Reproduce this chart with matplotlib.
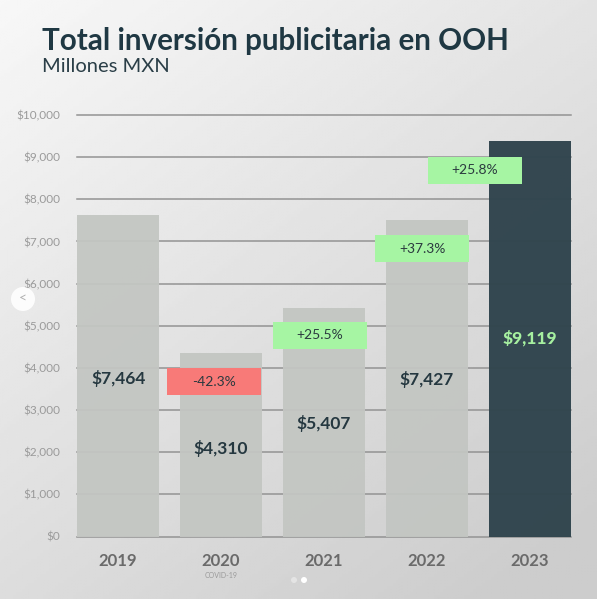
import matplotlib.pyplot as plt
import numpy as np
from matplotlib.patches import Rectangle, Circle

# data
years = ["2019", "2020", "2021", "2022", "2023"]
bar_heights = [7620, 4350, 5410, 7520, 9380]      # drawn bar tops (millones MXN)
bar_labels = ["$7,464", "$4,310", "$5,407", "$7,427", "$9,119"]
pct_changes = ["-42.3%", "+25.5%", "+37.3%", "+25.8%"]
y_ticks = list(range(0, 10001, 1000))

# layout
W, H = 597, 599
label_y = [3760, 2076, 2686, 3713, 4702]
pct_x = [0.929, 1.962, 2.953, 3.465]
pct_y = [3673, 4773, 6826, 8686]
BOX_W, BOX_H = 0.913, 641

LIGHT_BAR = "#c3c6c2"
DARK_BAR = "#31454e"
GREEN = "#a6f5a3"
RED = "#f87a78"
TEXT_DARK = "#253840"

plt.rcParams["font.family"] = ["Lato", "DejaVu Sans"]

fig = plt.figure(figsize=(W / 100, H / 100), dpi=100)

# gradient background
bg = fig.add_axes([0, 0, 1, 1], zorder=-10)
gx, gy = np.meshgrid(np.linspace(0, 1, 200), np.linspace(0, 1, 200))
shade = 0.97 - 0.14 * np.clip(0.55 * gx + 0.75 * gy, 0, 1.2)
bg.imshow(shade, cmap="gray", vmin=0, vmax=1, extent=[0, 1, 0, 1],
          aspect="auto", origin="upper")
bg.axis("off")

ax = fig.add_axes([77 / W, (H - 536.5) / H, (571 - 77) / W, (536.5 - 115) / H])
ax.set_facecolor("none")

x = np.arange(len(years))
ax.bar(x[:-1], bar_heights[:-1], width=0.8, color=LIGHT_BAR, alpha=0.94, zorder=2)
ax.bar(x[-1:], bar_heights[-1:], width=0.8, color=DARK_BAR, alpha=0.98, zorder=2)

for yv in y_ticks:
    ax.axhline(yv, color="#939393", lw=1.1, zorder=1, clip_on=False)

for i, txt in enumerate(bar_labels):
    last = i == len(bar_labels) - 1
    ax.text(x[i], label_y[i], txt, ha="center", va="center",
            fontsize=12.5, fontweight="black" if last else "bold",
            color="#a6f0a0" if last else TEXT_DARK, zorder=4)

for i, txt in enumerate(pct_changes):
    fc = RED if txt.startswith("-") else GREEN
    ax.add_patch(Rectangle((pct_x[i] - BOX_W / 2, pct_y[i] - BOX_H / 2),
                           BOX_W, BOX_H, facecolor=fc, edgecolor="none", zorder=3))
    ax.text(pct_x[i], pct_y[i], txt, ha="center", va="center",
            fontsize=10, color="#2b3a3f", zorder=4)

ax.set_xlim(-0.4, 4.4)
ax.set_ylim(0, 10000)
ax.set_yticks(y_ticks)
ax.set_yticklabels([f"${v:,}" for v in y_ticks], fontsize=8.5, color="#9a9a9a")
ax.set_xticks(x)
ax.set_xticklabels(years, fontsize=12, fontweight="bold", color="#6a6a6a")
ax.tick_params(axis="y", length=0, pad=12)
ax.tick_params(axis="x", length=0, pad=12)
for s in ax.spines.values():
    s.set_visible(False)

fig.text(221 / W, (H - 575) / H, "COVID-19", ha="center", va="center",
         fontsize=5, color="#9a9a9a")

fig.text(42 / W, (H - 41) / H, "Total inversión publicitaria en OOH",
         fontsize=21.3, fontweight="bold", color="#1f3843", va="center")
fig.text(42 / W, (H - 67) / H, "Millones MXN", fontsize=14.5,
         color="#2a3e47", va="center")

# carousel decorations
deco = fig.add_axes([0, 0, 1, 1], zorder=10)
deco.set_xlim(0, W)
deco.set_ylim(H, 0)
deco.axis("off")
deco.add_patch(Circle((23, 299), 12, facecolor="white", edgecolor="none", alpha=0.9))
deco.text(23, 298, "<", ha="center", va="center", fontsize=10, color="#b0b0b0")
deco.add_patch(Circle((294, 580), 3, facecolor="#e4e4e4", edgecolor="none"))
deco.add_patch(Circle((304, 580), 3, facecolor="white", edgecolor="none"))

fig.savefig("out.png", dpi=100)
